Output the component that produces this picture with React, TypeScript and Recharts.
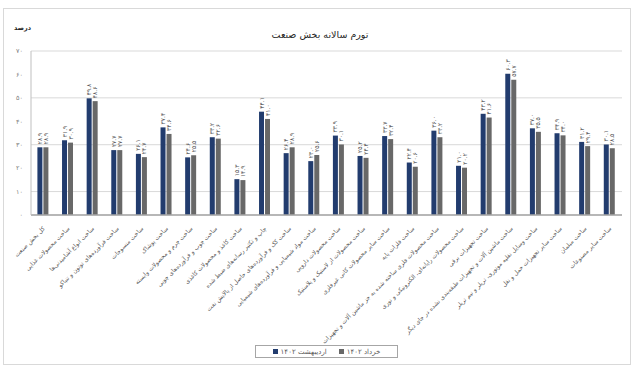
import { BarChart, Bar, XAxis, YAxis, CartesianGrid, Legend, LabelList } from 'recharts'

const categories = [
  'کل بخش صنعت',
  'ساخت محصولات غذایی',
  'ساخت انواع آشامیدنی‌ها',
  'ساخت فرآورده‌های توتون و تنباکو',
  'ساخت منسوجات',
  'ساخت پوشاک',
  'ساخت چرم و محصولات وابسته',
  'ساخت چوب و فرآورده‌های چوبی',
  'ساخت کاغذ و محصولات کاغذی',
  'چاپ و تکثیر رسانه‌های ضبط شده',
  'ساخت کک و فرآورده‌های حاصل از پالایش نفت',
  'ساخت مواد شیمیایی و فرآورده‌های شیمیایی',
  'ساخت محصولات دارویی',
  'ساخت محصولات از لاستیک و پلاستیک',
  'ساخت سایر محصولات کانی غیرفلزی',
  'ساخت فلزات پایه',
  'ساخت محصولات فلزی ساخته شده به جز ماشین آلات و تجهیزات',
  'ساخت محصولات رایانه‌ای، الکترونیکی و نوری',
  'ساخت تجهیزات برقی',
  'ساخت ماشین آلات و تجهیزات طبقه‌بندی نشده در جای دیگر',
  'ساخت وسایل نقلیه موتوری، تریلر و نیم تریلر',
  'ساخت سایر تجهیزات حمل و نقل',
  'ساخت مبلمان',
  'ساخت سایر مصنوعات',
]

const ordibehesht = [28.9, 31.9, 49.8, 27.7, 26.1, 37.4, 24.6, 33.2, 15.3, 44.1, 26.4, 23.0, 33.9, 25.2, 33.7, 22.4, 36.0, 21.0, 43.2, 60.3, 37.0, 34.9, 31.2, 30.1]
const khordad = [28.9, 30.9, 48.6, 27.7, 24.7, 34.6, 25.5, 32.6, 14.9, 41.0, 28.9, 25.6, 30.1, 24.4, 32.4, 20.6, 33.2, 20.2, 41.6, 57.7, 35.5, 34.0, 29.4, 28.5]

const yTicks = [0, 10, 20, 30, 40, 50, 60, 70]

const SERIES_1 = 'اردیبهشت ۱۴۰۲'
const SERIES_2 = 'خرداد ۱۴۰۲'

const FONT = '"DejaVu Sans", sans-serif'

const toFa = (s: string) => s.replace(/[0-9]/g, d => '۰۱۲۳۴۵۶۷۸۹'[Number(d)])

const data = categories.map((name, i) => ({ name, a: ordibehesht[i], b: khordad[i] }))

function CategoryTick({ x, y, payload }: any) {
  const tx = x + 2
  const ty = y + 6
  return (
    <text x={tx} y={ty} transform={`rotate(-45 ${tx} ${ty})`} textAnchor="end"
      fontSize={6} fill="#595959" fontFamily={FONT}>
      {payload.value}
    </text>
  )
}

function ValueLabel({ x, y, width, value }: any) {
  const cx = x + width / 2 + 2
  const cy = y - 3
  return (
    <text x={cx} y={cy} transform={`rotate(-90 ${cx} ${cy})`} textAnchor="start"
      fontSize={6} fill="#595959" fontFamily={FONT}>
      {toFa(Number(value).toFixed(1))}
    </text>
  )
}

function LegendBox({ payload }: any) {
  return (
    <div style={{
      border: '1px solid #a6a6a6', height: 11, display: 'flex', alignItems: 'center',
      justifyContent: 'center', gap: 12, fontFamily: FONT, fontSize: 7, color: '#595959',
    }}>
      {(payload ?? []).map((p: any) => (
        <span key={p.value} style={{ display: 'flex', alignItems: 'center', gap: 3 }}>
          <span style={{ width: 5, height: 5, background: p.color, display: 'inline-block' }} />
          <span>{p.value}</span>
        </span>
      ))}
    </div>
  )
}

export default function App() {
  return (
    <div style={{ position: 'absolute', left: 0, top: 0, width: 640, height: 371, background: '#fff' }}>
      <div style={{
        position: 'absolute', left: 3, top: 8, width: 628, height: 357,
        border: '1px solid #d9d9d9', boxSizing: 'border-box',
      }} />
      <div style={{
        position: 'absolute', left: 0, width: 640, top: 29, textAlign: 'center',
        fontFamily: FONT, fontSize: 9.5, color: '#262626',
      }}>تورم سالانه بخش صنعت</div>
      <div style={{
        position: 'absolute', left: 14, top: 24, fontFamily: FONT, fontSize: 6.5,
        fontWeight: 'bold', color: '#262626',
      }}>درصد</div>
      <div style={{ position: 'absolute', left: 0, top: 0 }}>
        <BarChart width={640} height={371} data={data}
          margin={{ top: 51, right: 18, bottom: 0, left: 0 }}
          barCategoryGap="26%" barGap={1}>
          <CartesianGrid vertical={false} stroke="#d9d9d9" />
          <XAxis dataKey="name" interval={0} height={156} tick={<CategoryTick />}
            tickLine={false} axisLine={{ stroke: '#a6a6a6', strokeWidth: 1.5 }} />
          <YAxis width={31} domain={[0, 70]} ticks={yTicks} tickLine={false}
            axisLine={{ stroke: '#bfbfbf' }} tickMargin={2}
            tick={{ fontSize: 6.5, fill: '#7f7f7f', fontFamily: FONT }}
            tickFormatter={(v: number) => toFa(String(v))} />
          <Legend layout="horizontal" verticalAlign="middle" align="center"
            wrapperStyle={{ top: 345, left: 255, width: 143, height: 13 }}
            content={<LegendBox />} />
          <Bar dataKey="a" name={SERIES_1} fill="#223c6e" isAnimationActive={false}>
            <LabelList dataKey="a" content={<ValueLabel />} />
          </Bar>
          <Bar dataKey="b" name={SERIES_2} fill="#686868" isAnimationActive={false}>
            <LabelList dataKey="b" content={<ValueLabel />} />
          </Bar>
        </BarChart>
      </div>
    </div>
  )
}
